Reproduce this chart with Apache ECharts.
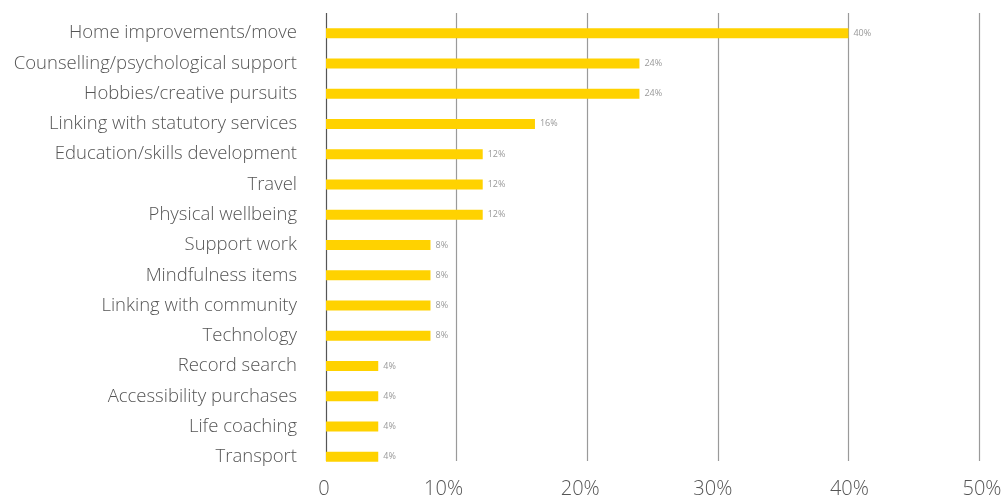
<!DOCTYPE html>
<html><head><meta charset="utf-8">
<script src="https://cdn.jsdelivr.net/npm/echarts@6/dist/echarts.min.js"></script>
<style>html,body{margin:0;padding:0;background:#fff}#c{width:1005px;height:499px}</style>
</head><body><div id="c"></div>
<script>
const categories = ["Home improvements/move","Counselling/psychological support","Hobbies/creative pursuits","Linking with statutory services","Education/skills development","Travel","Physical wellbeing","Support work","Mindfulness items","Linking with community","Technology","Record search","Accessibility purchases","Life coaching","Transport"];
const values = [40,24,24,16,12,12,12,8,8,8,8,4,4,4,4];
const xTicks = [0,10,20,30,40,50];
const xTickLabels = ['0','10%','20%','30%','40%','50%'];
const xLabelShift = [-2,-13,-7,-5,1,3];

const rich = {};
xTicks.forEach((t,i)=>{
  const d = xLabelShift[i];
  rich['t'+i] = {fontFamily:'Open Sans',fontWeight:300,fontSize:20,color:'#555',
    padding: d<0 ? [0,-2*d,0,0] : [0,0,0,2*d]};
});

const chart = echarts.init(document.getElementById('c'));
chart.setOption({
  animation:false,
  grid:[
    {left:326,right:26,top:18,bottom:27},
    {left:326,right:26,top:13,bottom:37}
  ],
  xAxis:[
    {gridIndex:0,type:'value',min:0,max:50,interval:10,show:false},
    {gridIndex:1,type:'value',min:0,max:50,interval:10,
     axisLine:{show:false},axisTick:{show:false},
     splitLine:{show:true,lineStyle:{color:['#555','#9a9a9a','#9a9a9a','#9a9a9a','#9a9a9a','#9a9a9a'],width:1.2}},
     axisLabel:{margin:18,color:'#555',fontFamily:'Open Sans',fontWeight:300,fontSize:20,rich:rich,
       formatter:v=>{const i=xTicks.indexOf(v);return '{t'+i+'|'+xTickLabels[i]+'}';}}}
  ],
  yAxis:[
    {gridIndex:0,type:'category',data:categories,inverse:true,
     axisLine:{show:false},axisTick:{show:false},splitLine:{show:false},
     axisLabel:{margin:29,color:'#555',fontFamily:'Open Sans',fontWeight:300,fontSize:18.5}},
    {gridIndex:1,type:'category',data:categories,inverse:true,show:false}
  ],
  series:[{
    type:'bar',xAxisIndex:0,yAxisIndex:0,data:values,barWidth:10,
    itemStyle:{color:'#FFD200'},
    label:{show:true,position:'right',distance:5,color:'#999',fontSize:9,fontFamily:'Open Sans',formatter:p=>p.value+'%'}
  }]
});
</script></body></html>
